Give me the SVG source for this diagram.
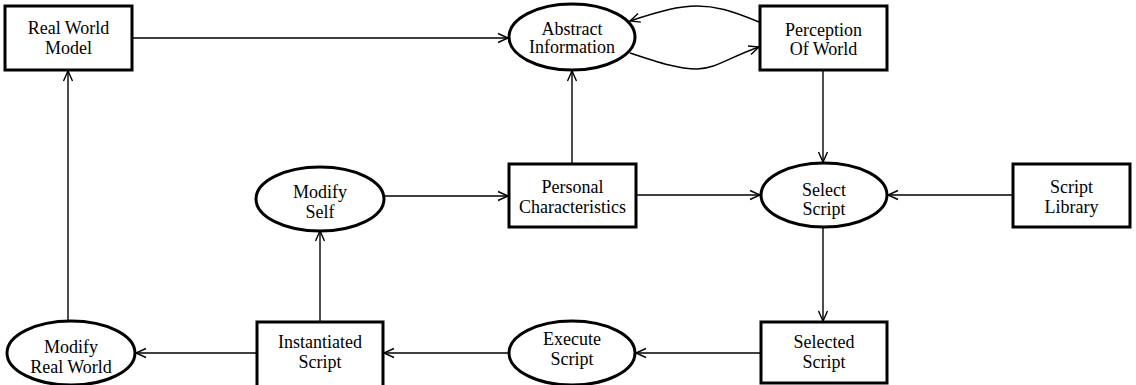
<svg xmlns="http://www.w3.org/2000/svg" width="1136" height="385" viewBox="0 0 1136 385">
<style>
.n{fill:#fff;stroke:#000;stroke-width:3}
.t{font-family:"Liberation Serif","Times New Roman",serif;font-size:18px;fill:#000;text-anchor:middle}
.c{fill:none;stroke:#000;stroke-width:1.4}
</style>
<defs>
<marker id="a" markerUnits="userSpaceOnUse" markerWidth="14" markerHeight="12" viewBox="0 0 14 12" refX="11" refY="6" orient="auto">
<path d="M1,1.5 L11,6 L1,10.5" fill="none" stroke="#000" stroke-width="1.4"/>
</marker>
</defs>
<rect width="1136" height="385" fill="#fff"/>
<g id="connectors">
<path class="c" d="M132,38 L508,38" marker-end="url(#a)"/>
<path class="c" d="M759,22 C730,10 715,6 697,6 C679,6 660,11 630,21" marker-end="url(#a)"/>
<path class="c" d="M630,53 C660,63 679,69 697,69 C715,69 730,57 759,47" marker-end="url(#a)"/>
<path class="c" d="M823,70 L823,162" marker-end="url(#a)"/>
<path class="c" d="M572,164 L572,71" marker-end="url(#a)"/>
<path class="c" d="M1013,195 L888,195" marker-end="url(#a)"/>
<path class="c" d="M636,195 L760,195" marker-end="url(#a)"/>
<path class="c" d="M384,196 L508,196" marker-end="url(#a)"/>
<path class="c" d="M823,227 L823,321" marker-end="url(#a)"/>
<path class="c" d="M761,353 L636,353" marker-end="url(#a)"/>
<path class="c" d="M508,353 L384,353" marker-end="url(#a)"/>
<path class="c" d="M257,353 L136,353" marker-end="url(#a)"/>
<path class="c" d="M320,322 L320,231" marker-end="url(#a)"/>
<path class="c" d="M68,321 L68,71" marker-end="url(#a)"/>
</g>
<g id="real-world-model">
<rect class="n" x="5" y="6" width="127" height="64"/>
<text class="t" x="68.5" y="34">Real World</text>
<text class="t" x="68.5" y="54">Model</text>
</g>
<g id="abstract-information">
<ellipse class="n" cx="572" cy="37" rx="63" ry="33"/>
<text class="t" x="572" y="35">Abstract</text>
<text class="t" x="572" y="53">Information</text>
</g>
<g id="perception-of-world">
<rect class="n" x="760" y="6" width="127" height="64"/>
<text class="t" x="823.5" y="36">Perception</text>
<text class="t" x="823.5" y="55">Of World</text>
</g>
<g id="modify-self">
<ellipse class="n" cx="320" cy="199" rx="64" ry="32"/>
<text class="t" x="320" y="198">Modify</text>
<text class="t" x="320" y="218">Self</text>
</g>
<g id="personal-characteristics">
<rect class="n" x="509" y="164" width="127" height="63"/>
<text class="t" x="572.5" y="193">Personal</text>
<text class="t" x="572.5" y="213">Characteristics</text>
</g>
<g id="select-script">
<ellipse class="n" cx="824" cy="195" rx="63" ry="32"/>
<text class="t" x="824" y="196">Select</text>
<text class="t" x="824" y="215">Script</text>
</g>
<g id="script-library">
<rect class="n" x="1013" y="164" width="117" height="63"/>
<text class="t" x="1071.5" y="193">Script</text>
<text class="t" x="1071.5" y="213">Library</text>
</g>
<g id="modify-real-world">
<ellipse class="n" cx="71" cy="353" rx="64" ry="32"/>
<text class="t" x="71" y="353">Modify</text>
<text class="t" x="71" y="373">Real World</text>
</g>
<g id="instantiated-script">
<rect class="n" x="257" y="322" width="126" height="66"/>
<text class="t" x="320" y="348">Instantiated</text>
<text class="t" x="320" y="368">Script</text>
</g>
<g id="execute-script">
<ellipse class="n" cx="572" cy="353" rx="63" ry="32"/>
<text class="t" x="572" y="345">Execute</text>
<text class="t" x="572" y="365">Script</text>
</g>
<g id="selected-script">
<rect class="n" x="761" y="322" width="126" height="61"/>
<text class="t" x="824" y="348">Selected</text>
<text class="t" x="824" y="368">Script</text>
</g>
</svg>
